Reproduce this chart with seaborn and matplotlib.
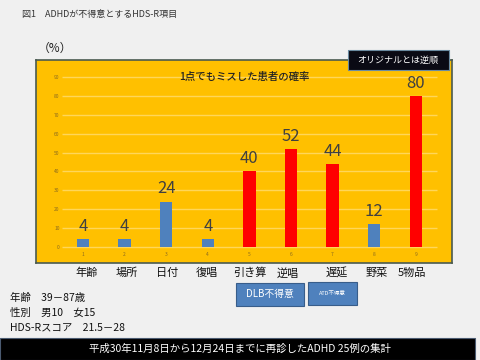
import seaborn as sns, pandas as pd
import matplotlib.pyplot as plt
from matplotlib.patches import Rectangle

items = ['年齢', '場所', '日付', '復唱', '引き算', '逆唱', '遅延', '野菜', '5物品']
tick_nums = ['1', '2', '3', '4', '5', '6', '7', '8', '9']
miss_rate = [4, 4, 24, 4, 40, 52, 44, 12, 80]
weak_group = ['other', 'other', 'other', 'other', 'DLB', 'DLB', 'DLB', 'other', 'DLB']
profile = ['年齢　39－87歳', '性別　男10　女15', 'HDS-Rスコア　21.5－28']

sns.set_style('white')
plt.rcParams['font.family'] = ['Noto Sans CJK JP', 'DejaVu Sans']

df = pd.DataFrame({'num': tick_nums, 'rate': miss_rate, 'group': weak_group})

fig = plt.figure(figsize=(4.8, 3.6), dpi=100, facecolor='#f0f0f0')
ax = fig.add_axes([36/480, 1-263/360, 416/480, 203/360])
ax.set_facecolor('#ffc000')

ax.hlines(range(0, 100, 10), -0.5, 8.5, color='#ffd65a', lw=1.0, zorder=0)
sns.barplot(data=df, x='num', y='rate', hue='group', dodge=False, width=0.3,
            palette={'other': '#4f81bd', 'DLB': '#ff0000'}, legend=False, ax=ax,
            saturation=1, linewidth=0, zorder=2)
for i, v in enumerate(miss_rate):
    ax.annotate(str(v), (i, v), xytext=(0, 3), textcoords='offset points',
                ha='center', va='bottom', fontsize=12, color='#404040')

ax.set_xlim(-1.13, 8.87)
ax.set_ylim(-8.5, 99)
ax.set_yticks(range(0, 100, 10))
ax.set_yticklabels([str(t) for t in range(0, 100, 10)])
ax.tick_params(axis='y', pad=-17, length=0, labelsize=3.5, labelcolor='#8a6a20')
ax.tick_params(axis='x', pad=-8, length=0, labelsize=3.5, labelcolor='#8a6a20')
ax.set_xlabel('')
ax.set_ylabel('')
for s in ax.spines.values():
    s.set_color('#4a5a50')
    s.set_linewidth(1.2)

ax.text(0.5, 0.915, '1点でもミスした患者の確率', transform=ax.transAxes,
        ha='center', va='center', fontsize=7.5, color='#222222', fontweight='medium')

# header and labels
fig.text(22/480, 1-15/360, '図1　ADHDが不得意とするHDS-R項目', fontsize=6.5,
         color='#333333', va='center')
fig.text(38/480, 1-48/360, '（%）', fontsize=8.5, color='#222222', va='center')

fig.patches.append(Rectangle((348/480, 1-70/360), 101/480, 20/360, transform=fig.transFigure,
                             facecolor='#0a0a14', edgecolor='#6a8aa0', lw=0.8, zorder=3))
fig.text(398/480, 1-60/360, 'オリジナルとは逆順', fontsize=6.5, color='white',
         ha='center', va='center', zorder=4)

label_x = [87, 127, 167, 207, 250, 288, 337, 377, 412]
for x, lab in zip(label_x, items):
    fig.text(x/480, 1-273/360, lab, fontsize=8, ha='center', va='center', color='#111111')

fig.patches.append(Rectangle((236/480, 1-306/360), 68/480, 23/360, transform=fig.transFigure,
                             facecolor='#4f81bd', edgecolor='#385d8a', lw=0.8))
fig.text(270/480, 1-294.5/360, 'DLB不得意', fontsize=7, color='white', ha='center', va='center')
fig.patches.append(Rectangle((308/480, 1-305/360), 49/480, 23/360, transform=fig.transFigure,
                             facecolor='#4f81bd', edgecolor='#385d8a', lw=0.8))
fig.text(332.5/480, 1-293.5/360, 'ATD不得意', fontsize=4, color='white', ha='center', va='center')

for k, line in enumerate(profile):
    fig.text(10/480, 1-(298 + 14.5*k)/360, line, fontsize=7.5, va='center', color='#111111')

fig.patches.append(Rectangle((0, 0), 475/480, 22/360, transform=fig.transFigure,
                             facecolor='black', edgecolor='#4a5a70', lw=0.8))
fig.text(240/480, 11/360, '平成30年11月8日から12月24日までに再診したADHD 25例の集計',
         fontsize=7.5, color='white', ha='center', va='center')

fig.savefig('out.png', dpi=100, facecolor=fig.get_facecolor())
